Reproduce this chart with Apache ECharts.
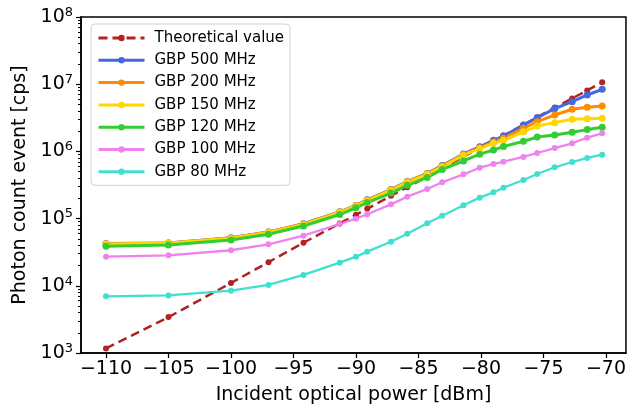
<!DOCTYPE html>
<html lang="en">
<head>
<meta charset="UTF-8">
<title>Photon count event vs incident optical power</title>
<style>
    html, body { margin: 0; padding: 0; background: #fff; }
    #main { width: 629px; height: 416px; }
</style>
</head>
<body>
<div id="main"></div>
<script src="https://cdn.jsdelivr.net/npm/echarts@6.0.0/dist/echarts.min.js"></script>
<script>
const myChart = echarts.init(document.getElementById('main'));

// incident optical power [dBm]
const power = [-110, -105, -100, -97, -94.2, -91.3, -90, -89.1, -87.2, -85.9, -84.3, -83.1,
    -81.4, -80.1, -79, -78.2, -76.6, -75.5, -74.1, -72.7, -71.5, -70.3];

// photon count event [cps]
const theory = [1.17e3, 3.42e3, 1.10e4, 2.25e4, 4.37e4, 8.49e4, 1.14e5, 1.40e5, 2.18e5, 2.92e5, 4.23e5,
    5.58e5, 8.37e5, 1.12e6, 1.43e6, 1.72e6, 2.49e6, 3.22e6, 4.49e6, 6.15e6, 8.09e6, 1.07e7];
const gbp500 = [4.25e4, 4.35e4, 5.2e4, 6.3e4, 8.4e4, 1.26e5, 1.57e5, 1.9e5, 2.7e5, 3.56e5, 4.7e5,
    6.15e5, 9.15e5, 1.17e6, 1.46e6, 1.69e6, 2.47e6, 3.17e6, 4.32e6, 5.5e6, 6.91e6, 8.4e6];
const gbp200 = [4.2e4, 4.35e4, 5.15e4, 6.3e4, 8.3e4, 1.25e5, 1.56e5, 1.88e5, 2.68e5, 3.52e5, 4.65e5,
    6.05e5, 9.0e5, 1.13e6, 1.38e6, 1.57e6, 2.21e6, 2.77e6, 3.48e6, 4.24e6, 4.53e6, 4.74e6];
const gbp150 = [4.2e4, 4.3e4, 5.1e4, 6.2e4, 8.2e4, 1.24e5, 1.54e5, 1.85e5, 2.64e5, 3.47e5, 4.56e5,
    5.92e5, 8.8e5, 1.1e6, 1.32e6, 1.46e6, 1.96e6, 2.39e6, 2.68e6, 3.01e6, 3.07e6, 3.11e6];
const gbp120 = [3.87e4, 4.05e4, 4.81e4, 5.84e4, 7.76e4, 1.15e5, 1.45e5, 1.73e5, 2.4e5, 3.13e5, 4.1e5,
    5.4e5, 7.2e5, 9.1e5, 1.05e6, 1.18e6, 1.41e6, 1.64e6, 1.76e6, 1.93e6, 2.11e6, 2.28e6];
const gbp100 = [2.71e4, 2.84e4, 3.38e4, 4.15e4, 5.57e4, 8.31e4, 9.97e4, 1.16e5, 1.63e5, 2.12e5, 2.76e5,
    3.47e5, 4.56e5, 5.72e5, 6.49e5, 7.03e5, 8.26e5, 9.47e5, 1.12e6, 1.32e6, 1.6e6, 1.86e6];
const gbp80 = [6.98e3, 7.2e3, 8.45e3, 1.03e4, 1.45e4, 2.21e4, 2.71e4, 3.22e4, 4.53e4, 5.96e4, 8.51e4,
    1.1e5, 1.58e5, 2.05e5, 2.46e5, 2.88e5, 3.75e5, 4.61e5, 5.8e5, 6.95e5, 7.98e5, 8.93e5];

// tick labels
const xTicks = [-110, -105, -100, -95, -90, -85, -80, -75, -70];
const yMinorTicks = [];
for (let e = 3; e < 8; e++) {
    for (let m = 2; m <= 9; m++) yMinorTicks.push(m * Math.pow(10, e));
}

const font = 'DejaVu Sans';

// series: name, values, colour, line width, symbol size, dashed
const lines = [
    ['Theoretical value', theory, '#b22222', 2.5, 6, true],
    ['GBP 500 MHz', gbp500, '#4169e1', 3, 7, false],
    ['GBP 200 MHz', gbp200, '#ff8c00', 3, 7, false],
    ['GBP 150 MHz', gbp150, '#ffd700', 3, 7, false],
    ['GBP 120 MHz', gbp120, '#32cd32', 3, 7, false],
    ['GBP 100 MHz', gbp100, '#ee82ee', 2.3, 6, false],
    ['GBP 80 MHz', gbp80, '#40e0d0', 2.3, 6, false]
];

const series = lines.map(([name, vals, color, width, size, dashed]) => ({
    name,
    type: 'line',
    data: power.map((p, i) => [p, vals[i]]),
    symbol: 'circle',
    symbolSize: size,
    color,
    itemStyle: { color },
    lineStyle: { color, width, type: dashed ? [9, 5] : 'solid' }
}));

const option = {
    animation: false,
    backgroundColor: '#fff',
    grid: {
        left: 81, right: 3, top: 17, bottom: 63,
        show: true, borderColor: '#000', borderWidth: 1.5
    },
    legend: {
        orient: 'vertical',
        left: 91, top: 24,
        padding: [6.5, 6, 6, 6],
        itemGap: 7.3,
        itemWidth: 46,
        itemHeight: 8,
        backgroundColor: '#fff',
        borderColor: '#d0d0d0',
        borderWidth: 1,
        borderRadius: 4,
        lineStyle: { width: 3 },
        textStyle: { fontFamily: font, fontSize: 15, color: '#000', padding: [0, 0, 0, 5] },
        data: lines.map(l => l[0])
    },
    xAxis: {
        type: 'value',
        min: -112, max: -68.4,
        name: 'Incident optical power [dBm]',
        nameLocation: 'middle',
        nameGap: 33,
        nameTextStyle: { fontFamily: font, fontSize: 19, color: '#000' },
        axisLine: { lineStyle: { color: '#000', width: 1.5 } },
        axisTick: { customValues: xTicks, length: 5, lineStyle: { color: '#000', width: 1.2 } },
        axisLabel: {
            customValues: xTicks,
            fontFamily: font, fontSize: 19, color: '#000', margin: 7,
            formatter: v => String(v).replace('-', '\u2212')
        },
        splitLine: { show: false }
    },
    yAxis: [{
        type: 'log',
        min: 1e3, max: 1e8,
        name: 'Photon count event [cps]',
        nameLocation: 'middle',
        nameGap: 51,
        nameTextStyle: { fontFamily: font, fontSize: 19, color: '#000' },
        axisLine: { show: true, lineStyle: { color: '#000', width: 1.5 } },
        axisTick: { show: true, length: 5, lineStyle: { color: '#000', width: 1.2 } },
        axisLabel: {
            margin: 8,
            formatter: v => '{b|10}{s|' + Math.round(Math.log10(v)) + '}',
            rich: {
                b: { fontFamily: font, fontSize: 19, color: '#000', lineHeight: 22 },
                s: { fontFamily: font, fontSize: 13, color: '#000', verticalAlign: 'top', lineHeight: 14 }
            }
        },
        splitLine: { show: false }
    }, {
        // minor ticks 2..9 of every decade
        type: 'log',
        min: 1e3, max: 1e8,
        position: 'left',
        axisLine: { show: false },
        axisTick: { show: true, customValues: yMinorTicks, length: 3, lineStyle: { color: '#000', width: 1 } },
        axisLabel: { show: false },
        splitLine: { show: false }
    }],
    series
};

myChart.setOption(option);
</script>
</body>
</html>
